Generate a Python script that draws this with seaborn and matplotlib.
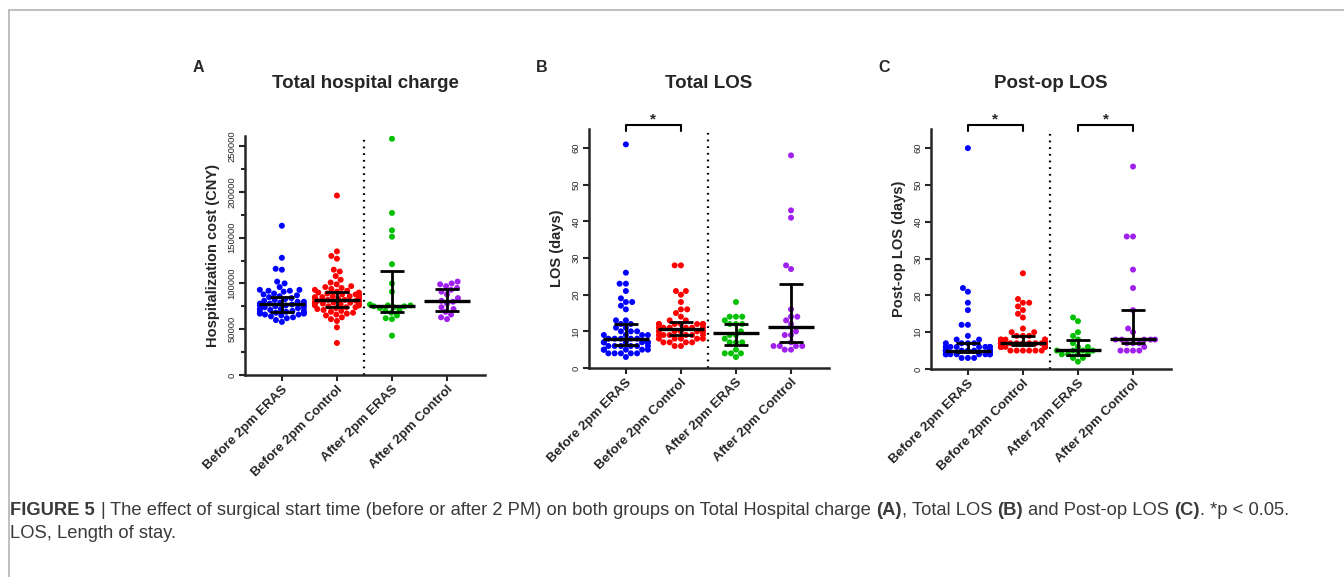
import numpy as np
import pandas as pd
import matplotlib
matplotlib.use('Agg')
import matplotlib.pyplot as plt
from matplotlib.lines import Line2D
import seaborn as sns

# groups and colours
groups = ['Before 2pm ERAS', 'Before 2pm Control', 'After 2pm ERAS', 'After 2pm Control']
colors = ['#0000ff', '#ff0000', '#00c000', '#a020f0']

# A: total hospital charge (CNY)
charge_before_eras = [163000, 128000, 116000, 115000, 102000, 100000, 96000, 93000, 93000, 92000,
                      92000, 91000, 89000, 88000, 87000, 86000, 85000, 84000, 83000, 82000,
                      81000, 80000, 80000, 79000, 78000, 78000, 77000, 77000, 76000, 76000,
                      75000, 74000, 74000, 73000, 72000, 72000, 71000, 70000, 70000, 69000,
                      69000, 68000, 68000, 67000, 67000, 66000, 66000, 65000, 64000, 63000,
                      62000, 60000, 58000]
charge_before_ctrl = [196000, 135000, 130000, 127000, 115000, 113000, 108000, 104000, 101000, 99000,
                      97000, 96000, 95000, 94000, 93000, 92000, 91000, 90000, 90000, 89000,
                      88000, 88000, 87000, 86000, 86000, 85000, 85000, 84000, 84000, 83000,
                      83000, 82000, 82000, 81000, 81000, 80000, 80000, 79000, 79000, 78000,
                      78000, 77000, 77000, 76000, 76000, 75000, 74000, 74000, 73000, 72000,
                      71000, 70000, 69000, 68000, 67000, 66000, 65000, 63000, 61000, 59000,
                      52000, 35000]
charge_after_eras = [258000, 177000, 158000, 151000, 121000, 100000, 91000, 77000, 76000, 76000,
                     75000, 75000, 74000, 73000, 71000, 70000, 68000, 65000, 62000, 61000, 43000]
charge_after_ctrl = [102000, 100000, 99000, 97000, 95000, 93000, 91000, 88000, 84000, 81000,
                     80000, 78000, 74000, 72000, 69000, 66000, 63000, 61000]
charge_median = [77500, 81900, 75300, 80400]
charge_q1 = [68800, 74200, 68400, 69900]
charge_q3 = [85500, 90200, 113500, 93900]

# B: total LOS (days)
los_before_eras = [61, 26, 23, 23, 21, 19, 18, 18, 17, 16, 13, 13, 12, 12, 11, 11, 10, 10, 10, 9,
                   9, 9, 9, 8, 8, 8, 8, 8, 7, 7, 7, 7, 7, 7, 6, 6, 6, 6, 6, 6,
                   5, 5, 5, 5, 5, 4, 4, 4, 4, 4, 3]
los_before_ctrl = [28, 28, 21, 21, 20, 18, 16, 16, 15, 14, 13, 13, 12, 12, 12, 12, 12, 12, 12,
                   11, 11, 11, 11, 11, 11, 10, 10, 10, 10, 10, 10, 9, 9, 9, 9, 9, 9,
                   8, 8, 8, 8, 8, 7, 7, 7, 7, 6, 6]
los_after_eras = [18, 14, 14, 14, 13, 12, 12, 12, 10, 9, 9, 8, 7, 7, 7, 5, 4, 4, 4, 3]
los_after_ctrl = [58, 43, 41, 28, 27, 16, 14, 14, 13, 12, 10, 9, 9, 7, 6, 6, 6, 6, 5, 5]
los_median = [8, 10.6, 9.5, 11.1]
los_q1 = [6.2, 8.9, 6.3, 7.0]
los_q3 = [11.9, 12.5, 12.0, 22.8]

# C: post-op LOS (days)
postop_before_eras = [60, 22, 21, 18, 16, 12, 12, 9, 8, 8, 7, 7, 7, 7,
                      6, 6, 6, 6, 6, 6, 6, 6,
                      5, 5, 5, 5, 5, 5, 5, 5, 5, 5, 5, 5, 5, 5, 5,
                      4, 4, 4, 4, 4, 4, 4, 4, 4, 4, 3, 3, 3]
postop_before_ctrl = [26, 19, 18, 18, 17, 16, 15, 14, 11, 10, 10, 9, 9, 9, 8, 8, 8, 8, 8,
                      7, 7, 7, 7, 7, 7, 7, 7, 7, 7, 7, 7, 7, 7,
                      6, 6, 6, 6, 6, 6, 6, 6, 6, 6, 5, 5, 5, 5, 5, 5]
postop_after_eras = [14, 13, 10, 9, 8, 7, 6, 6, 5, 5, 5, 5, 4, 4, 4, 4, 3, 3, 2]
postop_after_ctrl = [55, 36, 36, 27, 22, 16, 11, 10, 8, 8, 8, 8, 8, 7, 7, 7, 6, 5, 5, 5, 5]
postop_median = [5, 7.1, 5.1, 8.1]
postop_q1 = [4.7, 6.5, 3.9, 7.1]
postop_q3 = [7.0, 9.1, 8.0, 16.1]

W, H = 1344, 577
sns.set_style('ticks')
plt.rcParams['font.family'] = ['Liberation Sans', 'DejaVu Sans']
fig = plt.figure(figsize=(W / 100, H / 100), dpi=100)


def add_ax(left, top, width, height):
    return fig.add_axes([left / W, 1 - (top + height) / H, width / W, height / H])


def draw_panel(ax, values, med, q1, q3, ymax, yticks, ylabel, title, letter, sig_pairs, minor=None):
    df = pd.DataFrame({'group': np.repeat(groups, [len(v) for v in values]),
                       'value': np.concatenate(values)})
    sns.swarmplot(data=df, x='group', y='value', hue='group', order=groups, hue_order=groups,
                  palette=colors, size=4.3, ax=ax, legend=False, warn_thresh=1, zorder=2)
    xs = np.arange(len(groups))
    med = np.array(med, dtype=float)
    ax.hlines(med, xs - 0.42, xs + 0.42, color='black', lw=2.4, zorder=3)
    ax.errorbar(xs, med, yerr=[med - np.array(q1), np.array(q3) - med], fmt='none',
                ecolor='black', elinewidth=2, capsize=8.5, capthick=2, zorder=3)
    ax.vlines(1.5, 0, ymax, colors='black', linestyles=(0, (0.8, 2.2)), lw=1.6, zorder=1)
    ax.set_xlim(-0.67, 3.69)
    ax.set_ylim(0, ymax)
    ax.set_yticks(yticks)
    if minor is not None:
        ax.set_yticks(minor, minor=True)
    ax.set_xlabel('')
    ax.set_ylabel('')
    ax.tick_params(axis='both', width=1.5, length=4, direction='out', pad=2)
    ax.tick_params(axis='y', which='minor', width=1.5, length=3)
    ax.tick_params(axis='y', labelsize=6.8, labelrotation=90)
    for lab in ax.get_yticklabels():
        lab.set_va('center')
    ax.set_xticks(xs)
    ax.set_xticklabels(groups, fontsize=9.5, fontweight='bold', rotation=45,
                       ha='right', rotation_mode='anchor')
    for s in ['top', 'right']:
        ax.spines[s].set_visible(False)
    for s in ['left', 'bottom']:
        ax.spines[s].set_linewidth(1.8)

    # significance brackets
    span = ymax / 239.0
    for a, b in sig_pairs:
        y0 = ymax - 2 * span
        y1 = ymax + 4 * span
        ax.plot([a, a, b, b], [y0, y1, y1, y0], color='black', lw=1.5, clip_on=False)
        ax.text((a + b) / 2, y1 + 1.5 * span, '*', ha='center', va='baseline',
                fontsize=11, fontweight='bold')

    pos = ax.get_position()
    cx = (pos.x0 + pos.x1) / 2
    fig.text(cx, 1 - 83 / H, title, ha='center', va='center', fontsize=13.5, fontweight='bold')
    fig.text(pos.x0 - 32 / W, (pos.y0 + pos.y1) / 2, ylabel, rotation=90, ha='center',
             va='center', fontsize=10.5, fontweight='bold')
    fig.text(pos.x0 - 47 / W, 1 - 67.5 / H, letter, ha='center', va='center',
             fontsize=11.5, fontweight='bold')


axA = add_ax(245, 136, 240, 239)
axB = add_ax(589, 129, 240, 239)
axC = add_ax(931, 129, 240, 240)

draw_panel(axA, [charge_before_eras, charge_before_ctrl, charge_after_eras, charge_after_ctrl],
           charge_median, charge_q1, charge_q3, 261000, np.arange(0, 250001, 50000),
           'Hospitalization cost (CNY)', 'Total hospital charge', 'A', [],
           minor=np.arange(25000, 250000, 50000))
draw_panel(axB, [los_before_eras, los_before_ctrl, los_after_eras, los_after_ctrl],
           los_median, los_q1, los_q3, 65.2, np.arange(0, 61, 10),
           'LOS (days)', 'Total LOS', 'B', [(0, 1)])
draw_panel(axC, [postop_before_eras, postop_before_ctrl, postop_after_eras, postop_after_ctrl],
           postop_median, postop_q1, postop_q3, 65.2, np.arange(0, 61, 10),
           'Post-op LOS (days)', 'Post-op LOS', 'C', [(0, 1), (2, 3)])

# frame lines
fig.add_artist(Line2D([9 / W, 1], [1 - 10 / H, 1 - 10 / H], transform=fig.transFigure,
                      color='#b4b4b4', lw=1.2))
fig.add_artist(Line2D([9 / W, 9 / W], [0, 1 - 10 / H], transform=fig.transFigure,
                      color='#b4b4b4', lw=1.2))

# caption
cap_color = '#3a3a3a'
cap_size = 13.2
cap_family = ['Liberation Sans', 'DejaVu Sans']
renderer = fig.canvas.get_renderer()


def text_width(s, weight):
    t = fig.text(0, 0, s, fontsize=cap_size, fontweight=weight, family=cap_family)
    w = t.get_window_extent(renderer).width
    t.remove()
    return w


space_w = text_width('a a', 'normal') - text_width('aa', 'normal')


def rich_line(x_px, y_px, pieces):
    x = x_px
    for txt, weight, gap in pieces:
        t = fig.text(x / W, 1 - y_px / H, txt, fontsize=cap_size, fontweight=weight,
                     family=cap_family, color=cap_color, ha='left', va='baseline')
        x = t.get_window_extent(renderer).x1 + (space_w if gap else 0)


rich_line(10, 515, [
    ('FIGURE 5', 'bold', True), ('|', 'normal', True),
    ('The effect of surgical start time (before or after 2 PM) on both groups on Total Hospital charge',
     'normal', True),
    ('(A)', 'bold', False), (',', 'normal', True), ('Total LOS', 'normal', True),
    ('(B)', 'bold', True), ('and Post-op LOS', 'normal', True), ('(C)', 'bold', False),
    ('. *p < 0.05.', 'normal', False)])
rich_line(10, 538, [('LOS, Length of stay.', 'normal', False)])

fig.savefig('out.png', dpi=100)
